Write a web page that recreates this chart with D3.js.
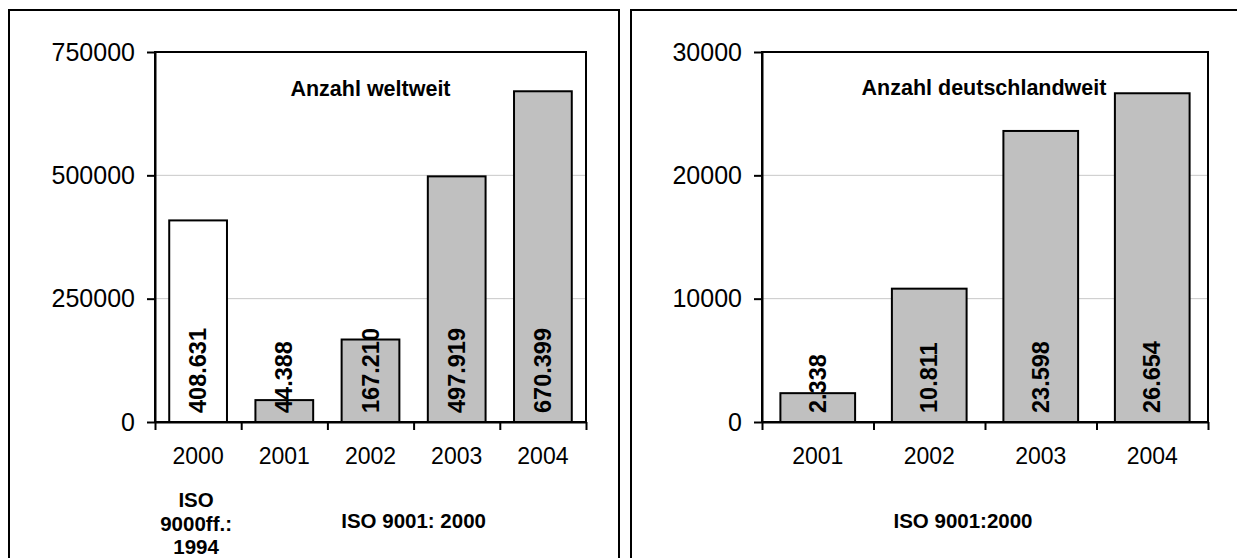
<!DOCTYPE html>
<html>
<head>
<meta charset="utf-8">
<script src="https://cdnjs.cloudflare.com/ajax/libs/d3/7.8.5/d3.min.js"></script>
<style>
  html, body { margin: 0; padding: 0; background: #fff; }
  svg { display: block; }
  text { font-family: "Liberation Sans", Arial, sans-serif; fill: #000; }
</style>
</head>
<body>
<svg id="chart" width="1237" height="558"></svg>
<script>
// ---- data ----
const worldCategories = ["2000", "2001", "2002", "2003", "2004"];
const worldValues = [408631, 44388, 167210, 497919, 670399];
const worldStandard = ["1994", "2000", "2000", "2000", "2000"];
const worldTicks = [0, 250000, 500000, 750000];
const worldTitle = "Anzahl weltweit";
const worldGroupOld = ["ISO", "9000ff.:", "1994"];
const worldGroupNew = "ISO 9001: 2000";

const germanyCategories = ["2001", "2002", "2003", "2004"];
const germanyValues = [2338, 10811, 23598, 26654];
const germanyStandard = ["2000", "2000", "2000", "2000"];
const germanyTicks = [0, 10000, 20000, 30000];
const germanyTitle = "Anzahl deutschlandweit";
const germanyGroup = "ISO 9001:2000";

// ---- helpers ----
const de = d3.formatLocale({ decimal: ",", thousands: ".", grouping: [3], currency: ["", "€"] });
const fmtValue = de.format(",");
const fillFor = s => s === "1994" ? "#ffffff" : "#c0c0c0";

const svg = d3.select("#chart");

// outer frames (open at the bottom, as in the original)
svg.append("rect").attr("x", 9).attr("y", 10).attr("width", 610).attr("height", 700)
  .attr("fill", "none").attr("stroke", "#000").attr("stroke-width", 2);
svg.append("rect").attr("x", 631).attr("y", 10).attr("width", 700).attr("height", 700)
  .attr("fill", "none").attr("stroke", "#000").attr("stroke-width", 2);

function drawPanel(cfg) {
  const g = svg.append("g");
  const x = d3.scaleBand().domain(cfg.categories).range([cfg.left, cfg.right])
    .paddingInner(0.33).paddingOuter(0.165);
  const y = d3.scaleLinear().domain([0, d3.max(cfg.ticks)]).range([cfg.bottom, cfg.top]);

  // gridlines
  g.append("g").selectAll("line")
    .data(cfg.ticks.filter(t => t > 0 && t < d3.max(cfg.ticks)))
    .join("line")
    .attr("x1", cfg.left).attr("x2", cfg.right)
    .attr("y1", d => y(d)).attr("y2", d => y(d))
    .attr("stroke", "#c8c8c8").attr("stroke-width", 1);

  // bars
  const data = cfg.categories.map((c, i) => ({ c, v: cfg.values[i], s: cfg.standard[i] }));
  g.append("g").selectAll("rect").data(data).join("rect")
    .attr("x", d => x(d.c)).attr("width", x.bandwidth())
    .attr("y", d => y(d.v)).attr("height", d => y(0) - y(d.v))
    .attr("fill", d => fillFor(d.s))
    .attr("stroke", "#000").attr("stroke-width", 2);

  // plot border (top / right)
  g.append("rect").attr("x", cfg.left).attr("y", cfg.top)
    .attr("width", cfg.right - cfg.left).attr("height", cfg.bottom - cfg.top)
    .attr("fill", "none").attr("stroke", "#000").attr("stroke-width", 2);

  // y axis
  const ya = g.append("g").attr("transform", `translate(${cfg.left},0)`)
    .call(d3.axisLeft(y).tickValues(cfg.ticks).tickFormat(d3.format("d"))
      .tickSize(8).tickSizeOuter(0).tickPadding(12));
  ya.select(".domain").attr("stroke", "#000").attr("stroke-width", 2);
  ya.selectAll(".tick line").attr("stroke", "#000").attr("stroke-width", 2);
  ya.selectAll(".tick text").attr("font-size", 25).attr("font-family", "Liberation Sans, Arial, sans-serif");

  // x axis: boundary ticks
  const n = cfg.categories.length;
  const xb = d3.scaleLinear().domain([0, n]).range([cfg.left, cfg.right]);
  const xt = g.append("g").attr("transform", `translate(0,${cfg.bottom})`)
    .call(d3.axisBottom(xb).tickValues(d3.range(n + 1)).tickFormat("")
      .tickSize(8).tickSizeOuter(0));
  xt.select(".domain").attr("stroke", "#000").attr("stroke-width", 2);
  xt.selectAll(".tick line").attr("stroke", "#000").attr("stroke-width", 2);

  // x axis: category labels
  const xl = g.append("g").attr("transform", `translate(0,${cfg.bottom})`)
    .call(d3.axisBottom(x).tickSize(0).tickPadding(26));
  xl.select(".domain").remove();
  xl.selectAll(".tick text").attr("font-size", 23).attr("font-family", "Liberation Sans, Arial, sans-serif");

  // value labels (rotated)
  g.append("g").selectAll("text").data(data).join("text")
    .attr("transform", d => `translate(${x(d.c) + x.bandwidth() / 2},${cfg.bottom - 9}) rotate(-90)`)
    .attr("text-anchor", "start").attr("dominant-baseline", "central")
    .attr("font-size", 23.5).attr("font-weight", "bold")
    .text(d => fmtValue(d.v));

  // title
  g.append("text").attr("x", cfg.titleX).attr("y", cfg.titleY)
    .attr("text-anchor", "middle").attr("font-size", 21.5).attr("font-weight", "bold")
    .text(cfg.title);

  return { x, y, g };
}

const p1 = drawPanel({
  categories: worldCategories, values: worldValues, standard: worldStandard,
  ticks: worldTicks, title: worldTitle,
  left: 155, right: 586, top: 52, bottom: 422, titleX: 370.5, titleY: 96
});
const p2 = drawPanel({
  categories: germanyCategories, values: germanyValues, standard: germanyStandard,
  ticks: germanyTicks, title: germanyTitle,
  left: 762, right: 1208, top: 52, bottom: 422, titleX: 984, titleY: 95
});

// group labels below the axes
const oldCx = p1.x(worldCategories[0]) + p1.x.bandwidth() / 2 - 2;
p1.g.append("g").selectAll("text").data(worldGroupOld).join("text")
  .attr("x", oldCx).attr("y", (d, i) => 507 + i * 23.5)
  .attr("text-anchor", "middle").attr("font-size", 20.5).attr("font-weight", "bold")
  .text(d => d);
const newCx = (p1.x(worldCategories[1]) + p1.x(worldCategories[4]) + p1.x.bandwidth()) / 2;
p1.g.append("text").attr("x", newCx).attr("y", 528)
  .attr("text-anchor", "middle").attr("font-size", 20.5).attr("font-weight", "bold")
  .text(worldGroupNew);
p2.g.append("text").attr("x", 963).attr("y", 528)
  .attr("text-anchor", "middle").attr("font-size", 20.5).attr("font-weight", "bold")
  .text(germanyGroup);
</script>
</body>
</html>
